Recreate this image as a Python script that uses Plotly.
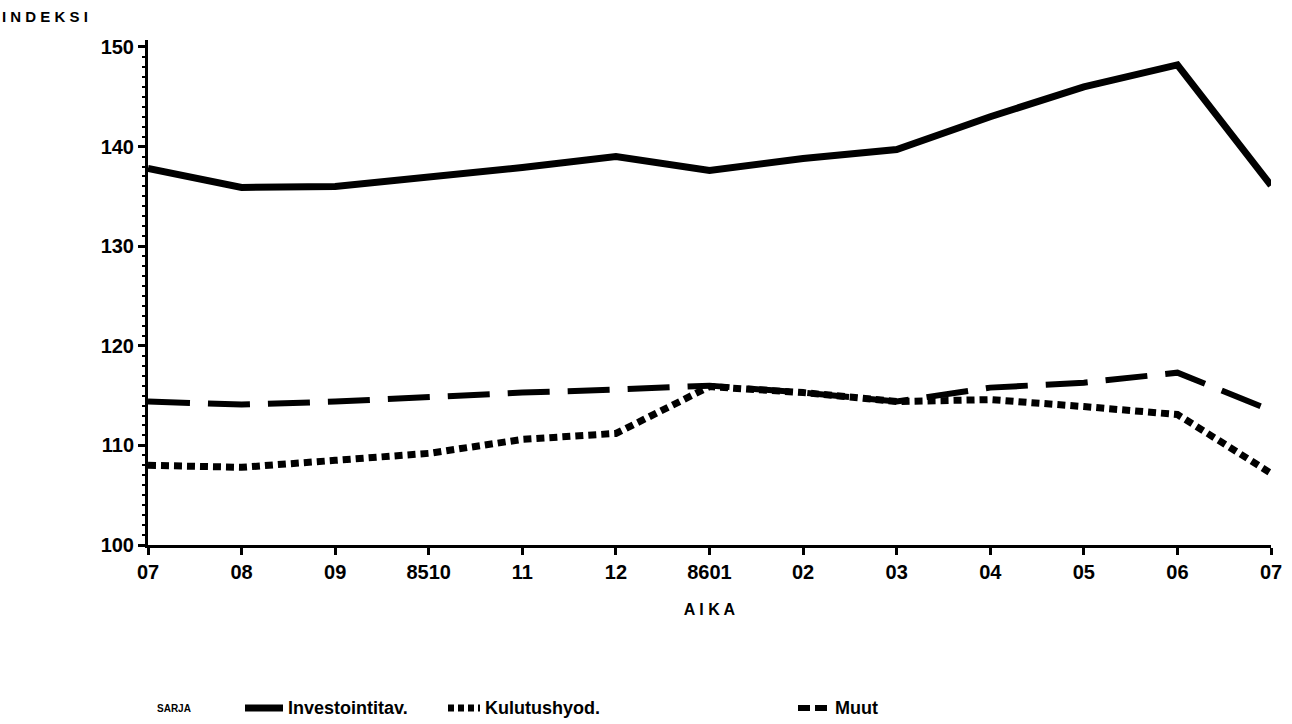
import plotly.graph_objects as go

periods = ["8507", "8508", "8509", "8510", "8511", "8512", "8601",
           "8602", "8603", "8604", "8605", "8606", "8607"]
tick_labels = ["07", "08", "09", "8510", "11", "12", "8601",
               "02", "03", "04", "05", "06", "07"]

investointitav = [137.8, 135.9, 136.0, 136.9, 137.9, 139.0, 137.6,
                  138.8, 139.7, 143.0, 146.0, 148.2, 136.1]
kulutushyod = [108.0, 107.8, 108.5, 109.2, 110.6, 111.2, 115.9,
               115.3, 114.4, 114.6, 113.9, 113.1, 107.2]
muut = [114.4, 114.1, 114.4, 114.9, 115.3, 115.6, 116.0,
        115.3, 114.4, 115.8, 116.3, 117.3, 113.5]

FONT = "Liberation Sans"
L, R, T, B = 148, 1271, 40, 545
PW, PH = R - L, B - T

fig = go.Figure()
fig.add_trace(go.Scatter(x=periods, y=investointitav, mode="lines",
                         name="Investointitav.",
                         line=dict(color="black", width=7)))
fig.add_trace(go.Scatter(x=periods, y=kulutushyod, mode="lines",
                         name="Kulutushyod.",
                         line=dict(color="black", width=7, dash="8px,5px")))
fig.add_trace(go.Scatter(x=periods, y=muut, mode="lines",
                         name="Muut",
                         line=dict(color="black", width=6, dash="42px,18px")))

fig.update_layout(
    width=1292, height=724,
    margin=dict(l=L, r=1292 - R, t=T, b=724 - B, autoexpand=False),
    paper_bgcolor="white", plot_bgcolor="white",
    showlegend=False,
    font=dict(family=FONT, color="black"),
)
fig.update_xaxes(
    type="category", range=[0, 12], automargin=False,
    tickvals=periods, ticktext=tick_labels,
    tickfont=dict(family=FONT, size=20, color="black", weight="bold"),
    showline=True, linecolor="black", linewidth=3,
    ticks="outside", ticklen=7, tickwidth=3, tickcolor="black",
    showgrid=False, zeroline=False,
    title=dict(text="A I K A", font=dict(family=FONT, size=16, weight="bold"), standoff=22),
)
fig.update_yaxes(
    range=[100, 150.7], tickvals=[100, 110, 120, 130, 140, 150], automargin=False,
    tickfont=dict(family=FONT, size=20, color="black", weight="bold"),
    showline=True, linecolor="black", linewidth=3,
    ticks="outside", ticklen=7, tickwidth=3, tickcolor="black",
    minor=dict(dtick=1, ticks="outside", ticklen=3, tickwidth=2, tickcolor="black"),
    showgrid=False, zeroline=False,
)

def px(xp):
    return (xp - L) / PW

def py(yp):
    return (B - yp) / PH

fig.add_annotation(text="I N D E K S I", xref="paper", yref="paper",
                   x=px(0), y=py(17), xanchor="left", yanchor="middle",
                   showarrow=False, font=dict(family=FONT, size=15, weight="bold"))

# legend drawn manually
leg_y = py(708)
fig.add_annotation(text="SARJA", xref="paper", yref="paper", x=px(155), y=leg_y,
                   xanchor="left", yanchor="middle", showarrow=False,
                   font=dict(family=FONT, size=10, weight="bold"))
entries = [
    (245, 283, "Investointitav.", "solid", 7),
    (448, 480, "Kulutushyod.", "6px,4px", 7),
    (798, 830, "Muut", "12px,5px", 6),
]
for x0, x1, label, dash, w in entries:
    fig.add_shape(type="line", xref="paper", yref="paper",
                  x0=px(x0), x1=px(x1), y0=leg_y, y1=leg_y,
                  line=dict(color="black", width=w, dash=dash))
    fig.add_annotation(text=label, xref="paper", yref="paper", x=px(x1 + 3), y=leg_y,
                       xanchor="left", yanchor="middle", showarrow=False,
                       font=dict(family=FONT, size=18, weight="bold"))

fig.write_html("out.html",
               config={"displayModeBar": False},
               post_script="document.body.style.margin='0';document.body.style.overflow='hidden';")
